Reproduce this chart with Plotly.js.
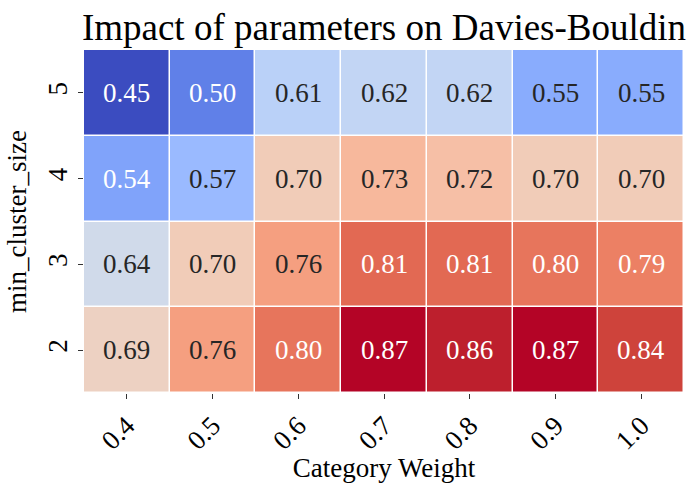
<!DOCTYPE html>
<html><head><meta charset="utf-8">
<script src="https://cdn.plot.ly/plotly-3.0.1.min.js"></script>
<style>html,body{margin:0;padding:0;background:#fff}#c{width:689px;height:483px}</style>
</head><body><div id="c"></div>
<script>
const weights = ['0.4','0.5','0.6','0.7','0.8','0.9','1.0'];
const clusterSizes = ['2','3','4','5'];
const row2 = [0.69,0.76,0.80,0.87,0.86,0.87,0.84];
const row3 = [0.64,0.70,0.76,0.81,0.81,0.80,0.79];
const row4 = [0.54,0.57,0.70,0.73,0.72,0.70,0.70];
const row5 = [0.45,0.50,0.61,0.62,0.62,0.55,0.55];
const z = [row2,row3,row4,row5];

const cw = [[0,59,76,192],[0.03125,68,90,204],[0.0625,77,104,215],[0.09375,87,117,225],[0.125,98,130,234],[0.15625,108,142,241],[0.1875,119,154,247],[0.21875,130,165,251],[0.25,141,176,254],[0.28125,152,185,255],[0.3125,163,194,255],[0.34375,174,201,253],[0.375,184,208,249],[0.40625,194,213,244],[0.4375,204,217,238],[0.46875,213,219,230],[0.5,221,221,221],[0.53125,229,216,209],[0.5625,236,211,197],[0.59375,241,204,185],[0.625,245,196,173],[0.65625,247,187,160],[0.6875,247,177,148],[0.71875,247,166,135],[0.75,244,154,123],[0.78125,241,141,111],[0.8125,236,127,99],[0.84375,229,112,88],[0.875,222,96,77],[0.90625,213,80,66],[0.9375,203,62,56],[0.96875,192,40,47],[1,180,4,38]];
const colorscale = cw.map(p=>[p[0],`rgb(${p[1]},${p[2]},${p[3]})`]);
const flat = z.flat();
const zmin = Math.min(...flat), zmax = Math.max(...flat);
function colorAt(v){
  const t = (v-zmin)/(zmax-zmin);
  for(let i=1;i<cw.length;i++){
    if(t<=cw[i][0]){
      const a=cw[i-1], b=cw[i], f=(t-a[0])/(b[0]-a[0]);
      return [1,2,3].map(k=>a[k]+(b[k]-a[k])*f);
    }
  }
  return cw[cw.length-1].slice(1);
}
function lum(rgb){
  const c = rgb.map(x=>{x/=255;return x<=0.03928?x/12.92:Math.pow((x+0.055)/1.055,2.4);});
  return 0.2126*c[0]+0.7152*c[1]+0.0722*c[2];
}
const FF = 'Liberation Serif';
const annotations = [];
z.forEach((row,i)=>row.forEach((v,j)=>{
  annotations.push({x:j,y:i,xref:'x',yref:'y',text:v.toFixed(2),showarrow:false,
    font:{family:FF,size:27,color:lum(colorAt(v))>0.408?'#262626':'#ffffff'}});
}));
Plotly.newPlot('c',[{type:'heatmap',x:weights,y:clusterSizes,z:z,colorscale:colorscale,zmin:zmin,zmax:zmax,
  showscale:false,xgap:1.5,ygap:1.5,hoverinfo:'skip'}],{
  width:689,height:483,margin:{l:84,r:5,t:50,b:90},
  paper_bgcolor:'#fff',plot_bgcolor:'#fff',font:{family:FF,color:'#000'},
  title:{text:'Impact of parameters on Davies-Bouldin',font:{family:FF,size:37,color:'#000'},x:0.5,xref:'paper',xanchor:'center',y:0.945,yanchor:'middle'},
  xaxis:{type:'category',range:[-0.5,6.5],tickangle:-45,ticks:'outside',ticklen:5,tickcolor:'#333',tickfont:{size:27,family:FF,color:'#000'},
    title:{text:'Category Weight',font:{size:27,family:FF,color:'#000'},standoff:8},showgrid:false,zeroline:false,showline:false},
  yaxis:{type:'category',range:[-0.5,3.5],tickangle:-90,ticks:'outside',ticklen:5,tickcolor:'#333',tickfont:{size:27,family:FF,color:'#000'},
    title:{text:'min_cluster_size',font:{size:27,family:FF,color:'#000'},standoff:8},showgrid:false,zeroline:false,showline:false},
  annotations:annotations
},{staticPlot:true});
</script></body></html>
